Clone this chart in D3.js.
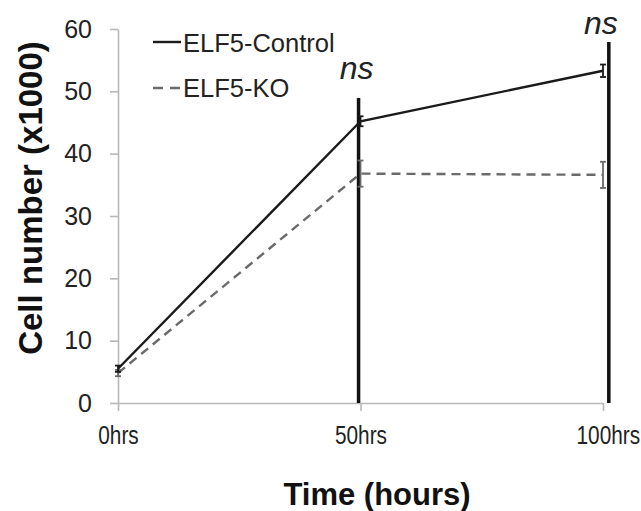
<!DOCTYPE html>
<html>
<head>
<meta charset="utf-8">
<script src="https://cdn.jsdelivr.net/npm/d3@7"></script>
<style>
  body { margin: 0; background: #fff; }
  svg { display: block; font-family: "Liberation Sans", Arial, sans-serif; }
</style>
</head>
<body>
<svg id="chart" width="641" height="511"></svg>
<script>
// data
const times = [0, 50, 100];
const xTickLabels = ["0hrs", "50hrs", "100hrs"];
const yTicks = [0, 10, 20, 30, 40, 50, 60];
const controlMean = [5.5, 45.2, 53.3];
const controlErr = [0.5, 0.8, 1.0];
const koMean = [4.8, 36.8, 36.6];
const koErr = [0.5, 2.1, 2.1];
const sigX = [49.6, 101.2];
const sigLabels = ["ns", "ns"];

const svg = d3.select('#chart')
const x = d3.scaleLinear().domain([0, 100]).range([118, 603])
const y = d3.scaleLinear().domain([0, 60]).range([403, 29])

// axes
const yAxis = svg.append('g').attr('transform', 'translate(118,0)')
  .call(d3.axisLeft(y).tickValues(yTicks).tickSize(8).tickSizeOuter(0).tickPadding(18))
const xAxis = svg.append('g').attr('transform', 'translate(0,403)')
  .call(d3.axisBottom(x).tickValues(times).tickSize(8).tickSizeOuter(0).tickFormat((d, i) => xTickLabels[i]).tickPadding(15))

svg.selectAll('.domain, .tick line').attr('stroke', '#b8b8b8').attr('stroke-width', 1.6)
yAxis.selectAll('text').attr('font-size', 25).attr('fill', '#222')
  .attr('font-family', '"Liberation Sans", Arial, sans-serif')
// the tick labels are condensed in the original
xAxis.selectAll('text').attr('font-size', 26).attr('fill', '#222')
  .attr('transform', 'scale(0.8,1)')
xAxis.selectAll('.tick').filter((d, i) => i === 2).select('text')
  .attr('x', 6)

// axis titles
svg.append('text').attr('x', 377).attr('y', 505).attr('text-anchor', 'middle')
  .attr('font-size', 31).attr('font-weight', 'bold').attr('fill', '#111').text('Time (hours)')
svg.append('text').attr('transform', 'translate(42,198) rotate(-90)').attr('text-anchor', 'middle')
  .attr('font-size', 33).attr('font-weight', 'bold').attr('fill', '#111').text('Cell number (x1000)')

// significance bars
sigX.forEach((sx, i) => {
  const top = i === 0 ? 98 : 42
  svg.append('line').attr('x1', x(sx)).attr('x2', x(sx)).attr('y1', top).attr('y2', y(0))
    .attr('stroke', '#111').attr('stroke-width', 3.5)
  svg.append('text').attr('x', x(sx) - (i === 0 ? 2 : 8)).attr('y', top - (i === 0 ? 19 : 8))
    .attr('text-anchor', 'middle')
    .attr('font-size', 32).attr('font-style', 'italic').attr('fill', '#222').text(sigLabels[i])
})

const line = d3.line().x((d, i) => x(times[i])).y(d => y(d))

function errorBars(means, errs, color) {
  means.forEach((m, i) => {
    const cx = x(times[i])
    const g = svg.append('g').attr('stroke', color).attr('stroke-width', 1.8)
    g.append('line').attr('x1', cx).attr('x2', cx).attr('y1', y(m - errs[i])).attr('y2', y(m + errs[i]))
    g.append('line').attr('x1', cx - 3).attr('x2', cx + 3).attr('y1', y(m - errs[i])).attr('y2', y(m - errs[i]))
    g.append('line').attr('x1', cx - 3).attr('x2', cx + 3).attr('y1', y(m + errs[i])).attr('y2', y(m + errs[i]))
  })
}

svg.append('path').datum(koMean).attr('d', line).attr('fill', 'none')
  .attr('stroke', '#6a6a6a').attr('stroke-width', 2.4).attr('stroke-dasharray', '9,6')
errorBars(koMean, koErr, '#6a6a6a')
svg.append('path').datum(controlMean).attr('d', line).attr('fill', 'none')
  .attr('stroke', '#1a1a1a').attr('stroke-width', 2.4)
errorBars(controlMean, controlErr, '#1a1a1a')

// legend
const legend = svg.append('g')
legend.append('line').attr('x1', 153).attr('x2', 181).attr('y1', 42).attr('y2', 42)
  .attr('stroke', '#1a1a1a').attr('stroke-width', 2.4)
legend.append('text').attr('x', 183).attr('y', 52).attr('font-size', 25.5).attr('fill', '#222').text('ELF5-Control')
legend.append('line').attr('x1', 153).attr('x2', 181).attr('y1', 88).attr('y2', 88)
  .attr('stroke', '#6a6a6a').attr('stroke-width', 2.4).attr('stroke-dasharray', '10,7')
legend.append('text').attr('x', 183).attr('y', 97).attr('font-size', 25.5).attr('fill', '#222').text('ELF5-KO')
</script>
</body>
</html>
